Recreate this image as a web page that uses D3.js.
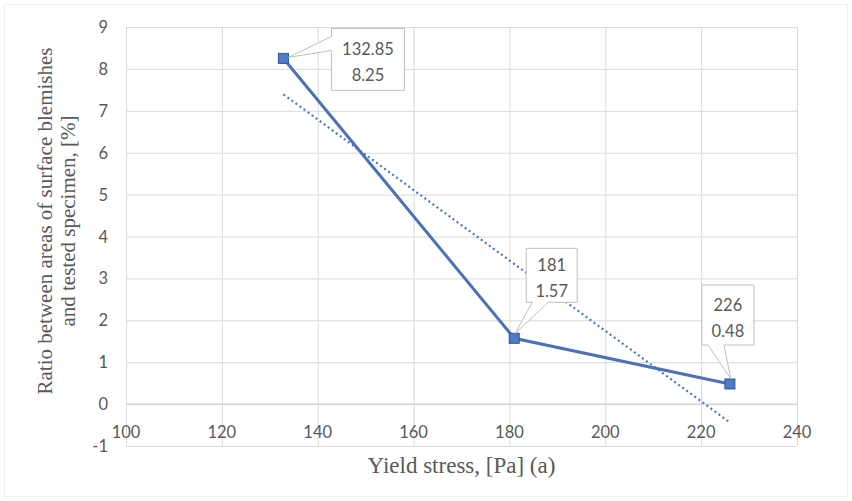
<!DOCTYPE html>
<html>
<head>
<meta charset="utf-8">
<script src="https://cdn.jsdelivr.net/npm/d3@7"></script>
<style>
  body { margin: 0; background: #fff; }
  svg { display: block; }
  .grid line { stroke: #d9d9d9; stroke-width: 1; }
  .grid path { display: none; }
  .tick-label { font-family: Lato, "Noto Sans", sans-serif; font-size: 16.5px; fill: #595959; }
  .axis-title { font-family: "Liberation Serif", "DejaVu Serif", serif; font-size: 21px; fill: #595959; }
  .callout-text { font-family: Lato, "Noto Sans", sans-serif; font-size: 16.5px; fill: #595959; }
</style>
</head>
<body>
<svg width="852" height="501"></svg>
<script>
// data
var yieldStress = [132.85, 181, 226];
var blemishRatio = [8.25, 1.57, 0.48];
var xTicks = [100, 120, 140, 160, 180, 200, 220, 240];
var yTicks = [-1, 0, 1, 2, 3, 4, 5, 6, 7, 8, 9];

var svg = d3.select('svg');
var svgWidth = +svg.attr('width');
var svgHeight = +svg.attr('height');

// plot area
var plot = {l: 126, r: 797, t: 27, b: 446};

var xScale = d3.scaleLinear().domain([100, 240]).range([plot.l, plot.r]);
var yScale = d3.scaleLinear().domain([-1, 9]).range([plot.b, plot.t]);

// faint chart border
svg.append('rect')
    .attr('x', 4.5).attr('y', 4.5)
    .attr('width', svgWidth - 9).attr('height', svgHeight - 9)
    .attr('fill', 'none')
    .attr('stroke', '#f0f0f0');

// gridlines
svg.append('g')
    .attr('class', 'grid')
    .attr('transform', 'translate(0,' + plot.b + ')')
    .call(d3.axisBottom(xScale).tickValues(xTicks).tickSize(-(plot.b - plot.t)).tickFormat(''));

svg.append('g')
    .attr('class', 'grid')
    .attr('transform', 'translate(' + plot.l + ',0)')
    .call(d3.axisLeft(yScale).tickValues(yTicks).tickSize(-(plot.r - plot.l)).tickFormat(''));

// zero line slightly darker
svg.append('line')
    .attr('x1', plot.l).attr('x2', plot.r)
    .attr('y1', yScale(0)).attr('y2', yScale(0))
    .attr('stroke', '#cfcfcf');

// tick labels
svg.selectAll('.ylab')
    .data(yTicks)
    .enter()
    .append('text')
    .attr('class', 'tick-label')
    .attr('x', plot.l - 18)
    .attr('y', d => yScale(d) + 6)
    .attr('text-anchor', 'end')
    .text(d => d);

svg.selectAll('.xlab')
    .data(xTicks)
    .enter()
    .append('text')
    .attr('class', 'tick-label')
    .attr('x', d => xScale(d))
    .attr('y', plot.b - 8)
    .attr('text-anchor', 'middle')
    .text(d => d);

// axis titles
svg.append('text')
    .attr('class', 'axis-title')
    .attr('x', (plot.l + plot.r) / 2)
    .attr('y', 473)
    .attr('text-anchor', 'middle')
    .style('font-size', '23px')
    .text('Yield stress, [Pa] (a)');

var yTitle = svg.append('text')
    .attr('class', 'axis-title')
    .attr('text-anchor', 'middle')
    .attr('transform', 'translate(52,221) rotate(-90)');
yTitle.append('tspan').attr('x', 0).attr('y', 0).text('Ratio between areas of surface blemishes');
yTitle.append('tspan').attr('x', 0).attr('y', 23).text('and tested specimen,  [%]');

// linear trendline (least squares over the points)
var mx = d3.mean(yieldStress), my = d3.mean(blemishRatio);
var sxy = d3.sum(yieldStress, (x, i) => (x - mx) * (blemishRatio[i] - my));
var sxx = d3.sum(yieldStress, x => (x - mx) * (x - mx));
var slope = sxy / sxx, intercept = my - slope * mx;
var xExt = d3.extent(yieldStress);

svg.append('line')
    .attr('x1', xScale(xExt[0])).attr('y1', yScale(slope * xExt[0] + intercept))
    .attr('x2', xScale(xExt[1])).attr('y2', yScale(slope * xExt[1] + intercept))
    .attr('stroke', '#4a76c0')
    .attr('stroke-width', 2.2)
    .attr('stroke-dasharray', '2,3');

// series line
var points = yieldStress.map((x, i) => ({x: x, y: blemishRatio[i]}));
var line = d3.line().x(d => xScale(d.x)).y(d => yScale(d.y));

svg.append('path')
    .datum(points)
    .attr('d', line)
    .attr('fill', 'none')
    .attr('stroke', '#4a72b4')
    .attr('stroke-width', 3);

svg.selectAll('.marker')
    .data(points)
    .enter()
    .append('rect')
    .attr('class', 'marker')
    .attr('x', d => xScale(d.x) - 5)
    .attr('y', d => yScale(d.y) - 5)
    .attr('width', 10).attr('height', 10)
    .attr('fill', '#4f7cc4')
    .attr('stroke', '#2f5597')
    .attr('stroke-width', 1);

// callout labels: box offset from the point plus where the wedge leaves the box
var callouts = [
    {dx: 48, dy: -30, w: 73, h: 62, side: 'left'},
    {dx: 12, dy: -90, w: 51, h: 54, side: 'bottom'},
    {dx: -28, dy: -99, w: 52, h: 60, side: 'bottom'}
];

function calloutPath(px, py, c) {
    var x0 = px + c.dx, y0 = py + c.dy, x1 = x0 + c.w, y1 = y0 + c.h;
    if (c.side === 'left') {
        var a = y0 + 8, b = y0 + 22;
        return 'M' + x0 + ',' + y0 + 'H' + x1 + 'V' + y1 + 'H' + x0 + 'V' + b +
            'L' + (px + 5) + ',' + (py - 1) + 'L' + x0 + ',' + a + 'Z';
    }
    var ca = x0 + 6, cb = x0 + 22;
    return 'M' + x0 + ',' + y0 + 'H' + x1 + 'V' + y1 + 'H' + cb +
        'L' + (px + 1) + ',' + (py - 5) + 'L' + ca + ',' + y1 + 'H' + x0 + 'Z';
}

points.forEach(function(d, i) {
    var c = callouts[i];
    var px = xScale(d.x), py = yScale(d.y);
    svg.append('path')
        .attr('d', calloutPath(px, py, c))
        .attr('fill', '#fff')
        .attr('stroke', '#bfbfbf')
        .attr('stroke-width', 1);
    var cx = px + c.dx + c.w / 2;
    var t = svg.append('text')
        .attr('class', 'callout-text')
        .attr('text-anchor', 'middle');
    t.append('tspan').attr('x', cx).attr('y', py + c.dy + c.h / 2 - 4).text(d.x);
    t.append('tspan').attr('x', cx).attr('y', py + c.dy + c.h / 2 + 22).text(d.y);
});
</script>
</body>
</html>
